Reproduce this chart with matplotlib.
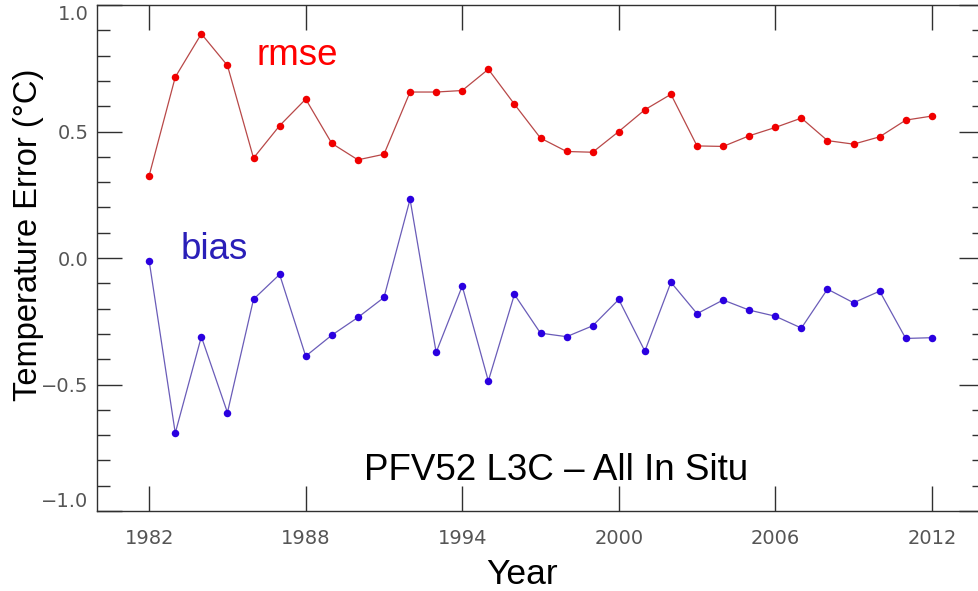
import numpy as np
import matplotlib
matplotlib.use("Agg")
import matplotlib.pyplot as plt
from matplotlib.ticker import MultipleLocator

# ------------------------------------------------------------
# data
# ------------------------------------------------------------
years = np.arange(1982, 2013)

rmse = [0.326, 0.715, 0.886, 0.761, 0.395, 0.523, 0.628, 0.453, 0.388, 0.410,
        0.656, 0.656, 0.662, 0.746, 0.608, 0.474, 0.421, 0.418, 0.500, 0.586,
        0.647, 0.443, 0.441, 0.483, 0.516, 0.553, 0.464, 0.450, 0.479, 0.545,
        0.561]

bias = [-0.012, -0.692, -0.311, -0.611, -0.163, -0.065, -0.388, -0.305, -0.235, -0.156,
        0.232, -0.373, -0.111, -0.486, -0.144, -0.297, -0.311, -0.268, -0.164, -0.368,
        -0.096, -0.220, -0.166, -0.206, -0.230, -0.277, -0.123, -0.177, -0.131, -0.318,
        -0.315]

year_ticks = [1982, 1988, 1994, 2000, 2006, 2012]
y_ticks = [-1.0, -0.5, 0.0, 0.5, 1.0]
y_ticklabels = ["\u22121.0", "\u22120.5", "0.0", "0.5", "1.0"]

title = "PFV52 L3C \u2013 All In Situ"

# ------------------------------------------------------------
# figure
# ------------------------------------------------------------
W, H = 979, 591
fig = plt.figure(figsize=(W / 100, H / 100), dpi=100)
# right spine sits just past the image edge in the original
ax = fig.add_axes([97 / W, (H - 511) / H, 887 / W, 506 / H])

ax.plot(years, rmse, color="#b84848", lw=0.9, zorder=2)
ax.plot(years, rmse, "o", color="#f00000", ms=5.4, mec="none", zorder=3)
ax.plot(years, bias, color="#6a5cb8", lw=0.9, zorder=2)
ax.plot(years, bias, "o", color="#2a00e0", ms=5.4, mec="none", zorder=3)

ax.set_xlim(1980, 2014)
ax.set_ylim(-1.0, 1.0)

ax.set_xticks(year_ticks)
ax.set_xticklabels([str(y) for y in year_ticks])
ax.set_yticks(y_ticks)
ax.set_yticklabels(y_ticklabels)
ax.yaxis.set_minor_locator(MultipleLocator(0.1))

ax.tick_params(axis="both", which="both", direction="in", top=True, right=True,
               color="#303030", width=1.0)
ax.tick_params(axis="both", which="major", length=18)
ax.tick_params(axis="y", which="minor", length=9)
ax.tick_params(axis="x", which="major", pad=13)
ax.tick_params(axis="y", which="major", pad=6)
for lab in ax.get_xticklabels() + ax.get_yticklabels():
    lab.set_fontfamily("DejaVu Sans")
    lab.set_fontsize(14)
    lab.set_color("#555555")

# end labels on the y axis are kept inside the frame, as in the original
yt = ax.yaxis.get_major_ticks()
yt[0].label1.set_va("bottom")
yt[-1].label1.set_va("top")

for sp in ax.spines.values():
    sp.set_color("#303030")
    sp.set_linewidth(1.0)

sans = "Liberation Sans"
ax.text(1986.13, 0.761, "rmse", color="#ff0000", fontsize=26.5, family=sans,
        ha="left", va="baseline")
ax.text(1983.21, -0.005, "bias", color="#2a1fb8", fontsize=26.5, family=sans,
        ha="left", va="baseline")
ax.text(1990.24, -0.879, title, color="black", fontsize=26.5, family=sans,
        ha="left", va="baseline")

fig.text(522 / W, 0.5 / H, "Year", fontsize=25.5, family=sans,
         ha="center", va="bottom")
fig.text(29 / W, (H - 235) / H, "Temperature Error (\u00b0C)", fontsize=23.5,
         family=sans, rotation=90, ha="center", va="center")

fig.savefig("out.png", dpi=100)
